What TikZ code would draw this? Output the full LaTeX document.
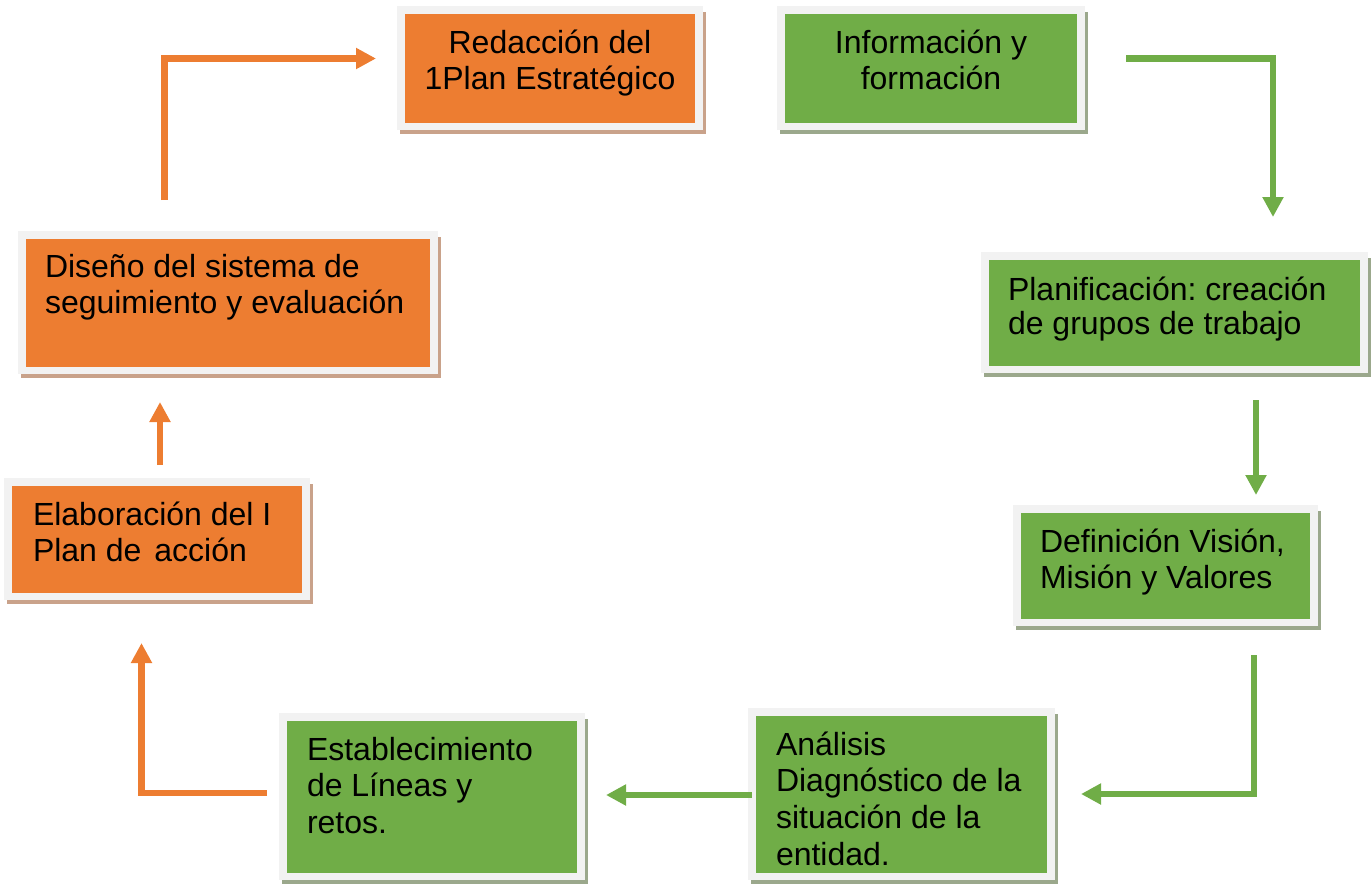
\documentclass[tikz,border=0pt]{standalone}
\usepackage{fontspec}
\setmainfont{Liberation Sans}
\usetikzlibrary{arrows.meta}
\frenchspacing
\definecolor{ora}{HTML}{ED7D31}
\definecolor{grn}{HTML}{70AD47}
\definecolor{frm}{HTML}{F2F2F2}
\definecolor{oshd}{RGB}{201,162,138}
\definecolor{gshd}{RGB}{155,168,140}
\newcommand\fl{\rule{0pt}{30pt}}
\newcommand\pbox[7]{%
  \fill[#7] (#2+3,#3+6) rectangle (#4+3,#5+4);
  \node[fill=frm,inner sep=0,outer sep=0,anchor=north west,minimum width=#4-#2,minimum height=#5-#3] (#1) at (#2,#3) {};
  \fill[#6] ([shift={(7.5,7.5)}]#1.north west) rectangle ([shift={(-8,-7.5)}]#1.south east);
}
\tikzset{
  txt/.style={inner sep=0,outer sep=0,font=\fontsize{32}{36.7}\selectfont,text=black},
  oarr/.style={draw=ora,line width=6.5pt,line join=miter,-{Triangle[length=20pt,width=20pt]}},
  garr/.style={draw=grn,line width=6.5pt,line join=miter,-{Triangle[length=20pt,width=20pt]}}
}
\begin{document}
\begin{tikzpicture}[x=1pt,y=-1pt]
\useasboundingbox (0,0) rectangle (1371,884);
% boxes
\pbox{red}{397}{6}{703}{130}{ora}{oshd}
\pbox{inf}{777}{6}{1085}{130}{grn}{gshd}
\pbox{pla}{981}{252}{1368}{373}{grn}{gshd}
\pbox{def}{1013}{505}{1318}{626}{grn}{gshd}
\pbox{ana}{748}{708}{1055}{880}{grn}{gshd}
\pbox{est}{279}{713}{585}{880}{grn}{gshd}
\pbox{ela}{4}{478}{310}{600}{ora}{oshd}
\pbox{dis}{18}{231}{438}{374}{ora}{oshd}
% texts
\node[txt,anchor=north,align=center] (redT) at (550,53-30) {\fl Redacción del\\1Plan Estratégico};
\node[txt,anchor=north,align=center] (infT) at (931,53-30) {\fl Información y\\formación};
\node[txt,anchor=north west,align=left,font=\fontsize{32}{34}\selectfont] (plaT) at (1008,300-30) {\fl Planificación: creación\\de grupos de trabajo};
\node[txt,anchor=north west,align=left] (defT) at (1040,552-30) {\fl Definición Visión,\\Misión y Valores};
\node[txt,anchor=north west,align=left] (anaT) at (776,755-30) {\fl Análisis\\Diagnóstico de la\\situación de la\\entidad.};
\node[txt,anchor=north west,align=left] (estT) at (307,760-30) {\fl Establecimiento\\de Líneas y\\retos.};
\node[txt,anchor=north west,align=left] (elaT) at (33,525-30) {\fl Elaboración del I\\Plan de\hspace{4pt} acción};
\node[txt,anchor=north west,align=left] (disT) at (45,277-30) {\fl Diseño del sistema de\\seguimiento y evaluación};
% connector end points
\coordinate (o1s) at (164.5,200);
\coordinate (o1e) at (376,58.5);
\coordinate (g1s) at (1126,58.5);
\coordinate (g1e) at (1273,217);
\coordinate (g2s) at (1256,400);
\coordinate (g2e) at (1256,495);
\coordinate (g3s) at (1254,655);
\coordinate (g3e) at (1081,794);
\coordinate (g4s) at (752,795);
\coordinate (g4e) at (606,795);
\coordinate (o3s) at (267,793);
\coordinate (o3e) at (141.5,643);
\coordinate (o2s) at (160,465);
\coordinate (o2e) at (160,402);
% connectors
\draw[oarr] (o1s) |- (o1e);
\draw[garr] (g1s) -| (g1e);
\draw[garr] (g2s) -- (g2e);
\draw[garr] (g3s) |- (g3e);
\draw[garr] (g4s) -- (g4e);
\draw[oarr] (o3s) -| (o3e);
\draw[oarr] (o2s) -- (o2e);
\end{tikzpicture}
\end{document}
